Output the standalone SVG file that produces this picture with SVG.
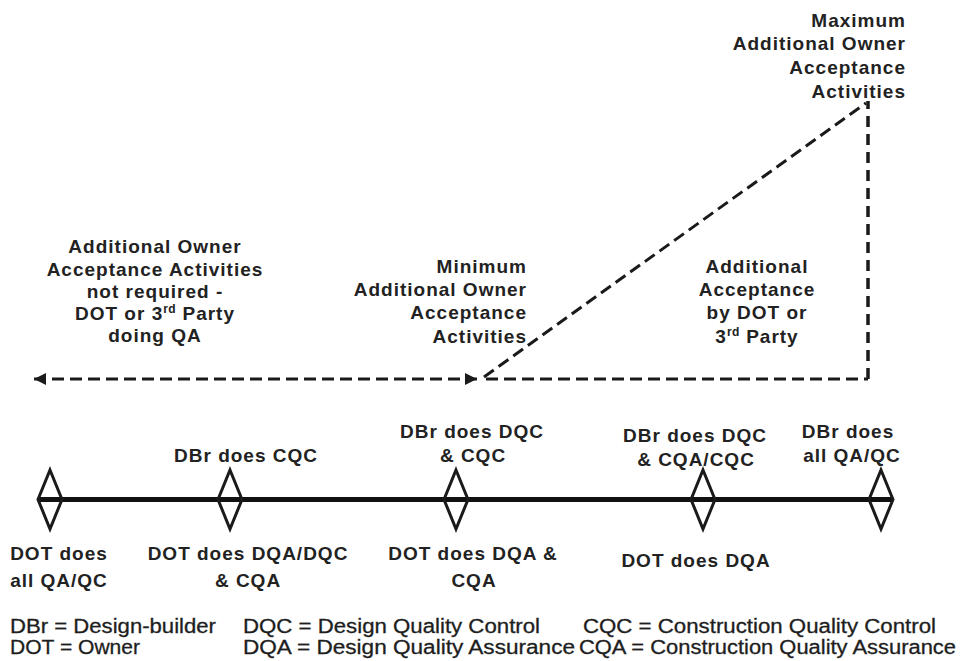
<svg xmlns="http://www.w3.org/2000/svg" width="969" height="661" viewBox="0 0 969 661">
  <defs>
    <style>
      .lbl { font-family: "Liberation Sans", Arial, sans-serif; font-weight: bold; font-size: 19px; letter-spacing: 1px; fill: #222; }
      .mid { text-anchor: middle; }
      .end { text-anchor: end; }
      .sup { font-size: 12px; letter-spacing: 0.5px; }
      .legend { font-family: "Liberation Sans", Arial, sans-serif; font-size: 20px; fill: #1e1e1e; stroke: #1e1e1e; stroke-width: 0.3px; }
      .dash { fill: none; stroke: #1a1a1a; stroke-width: 3; stroke-dasharray: 12 6; }
      .vdash { fill: none; stroke: #1a1a1a; stroke-width: 3.5; stroke-dasharray: 11 7; }
      .axis { fill: none; stroke: #111; stroke-width: 5; }
      .tick { fill: none; stroke: #1a1a1a; stroke-width: 3; stroke-linejoin: miter; }
    </style>
    <marker id="arrow" viewBox="0 0 10 10" refX="10" refY="5" markerWidth="14" markerHeight="12" markerUnits="userSpaceOnUse" orient="auto-start-reverse">
      <path d="M0,0 L10,5 L0,10 z" fill="#1a1a1a"/>
    </marker>
  </defs>

  <rect width="969" height="661" fill="#ffffff"/>

  <!-- dashed acceptance envelope and timeline axis -->
  <g id="connectors">
    <line class="dash" x1="34" y1="379" x2="477" y2="379" marker-start="url(#arrow)" marker-end="url(#arrow)"/>
    <line class="dash" x1="484" y1="377" x2="866" y2="103"/>
    <line class="dash" x1="486" y1="379" x2="868" y2="379"/>
    <line class="vdash" x1="868" y1="379" x2="868" y2="101"/>
    <line class="axis" x1="38" y1="499.5" x2="893" y2="499.5"/>
  </g>

  <!-- region labels -->
  <g id="label-not-required">
    <text class="lbl mid" x="155" y="253">Additional Owner</text>
    <text class="lbl mid" x="155" y="276">Acceptance Activities</text>
    <text class="lbl mid" x="155" y="298">not required -</text>
    <text class="lbl mid" x="155" y="320">DOT or 3<tspan class="sup" dy="-7">rd</tspan><tspan dy="7"> Party</tspan></text>
    <text class="lbl mid" x="155" y="342">doing QA</text>
  </g>

  <g id="label-minimum">
    <text class="lbl end" x="527" y="273">Minimum</text>
    <text class="lbl end" x="527" y="296">Additional Owner</text>
    <text class="lbl end" x="527" y="319">Acceptance</text>
    <text class="lbl end" x="527" y="343">Activities</text>
  </g>

  <g id="label-additional">
    <text class="lbl mid" x="757" y="273">Additional</text>
    <text class="lbl mid" x="757" y="296">Acceptance</text>
    <text class="lbl mid" x="757" y="319">by DOT or</text>
    <text class="lbl mid" x="757" y="343">3<tspan class="sup" dy="-7">rd</tspan><tspan dy="7"> Party</tspan></text>
  </g>

  <g id="label-maximum">
    <text class="lbl end" x="906" y="27">Maximum</text>
    <text class="lbl end" x="906" y="50">Additional Owner</text>
    <text class="lbl end" x="906" y="74">Acceptance</text>
    <text class="lbl end" x="906" y="98">Activities</text>
  </g>

  <!-- timeline milestones -->
  <g id="node-1">
    <path class="tick" d="M50,470 L62,499.5 L50,529 L38,499.5 Z"/>
    <text class="lbl mid" x="59" y="560">DOT does</text>
    <text class="lbl mid" x="59" y="587">all QA/QC</text>
  </g>

  <g id="node-2">
    <path class="tick" d="M230,470 L242,499.5 L230,529 L218,499.5 Z"/>
    <text class="lbl mid" x="246" y="462">DBr does CQC</text>
    <text class="lbl mid" x="248" y="560">DOT does DQA/DQC</text>
    <text class="lbl mid" x="248" y="587">&amp; CQA</text>
  </g>

  <g id="node-3">
    <path class="tick" d="M456,470 L468,499.5 L456,529 L444,499.5 Z"/>
    <text class="lbl mid" x="472" y="438">DBr does DQC</text>
    <text class="lbl mid" x="473" y="462">&amp; CQC</text>
    <text class="lbl mid" x="473" y="560">DOT does DQA &amp;</text>
    <text class="lbl mid" x="474" y="587">CQA</text>
  </g>

  <g id="node-4">
    <path class="tick" d="M703,470 L715,499.5 L703,529 L691,499.5 Z"/>
    <text class="lbl mid" x="695" y="442">DBr does DQC</text>
    <text class="lbl mid" x="696" y="466">&amp; CQA/CQC</text>
    <text class="lbl mid" x="696" y="567">DOT does DQA</text>
  </g>

  <g id="node-5">
    <path class="tick" d="M881,470 L893,499.5 L881,529 L869,499.5 Z"/>
    <text class="lbl mid" x="848" y="438">DBr does</text>
    <text class="lbl mid" x="852" y="462">all QA/QC</text>
  </g>

  <!-- abbreviation legend -->
  <g id="legend">
    <text class="legend" x="10" y="633" textLength="206" lengthAdjust="spacingAndGlyphs">DBr = Design-builder</text>
    <text class="legend" x="243" y="633" textLength="297" lengthAdjust="spacingAndGlyphs">DQC = Design Quality Control</text>
    <text class="legend" x="583" y="633" textLength="353" lengthAdjust="spacingAndGlyphs">CQC = Construction Quality Control</text>
    <text class="legend" x="10" y="654" textLength="130" lengthAdjust="spacingAndGlyphs">DOT = Owner</text>
    <text class="legend" x="243" y="654" textLength="332" lengthAdjust="spacingAndGlyphs">DQA = Design Quality Assurance</text>
    <text class="legend" x="579" y="654" textLength="377" lengthAdjust="spacingAndGlyphs">CQA = Construction Quality Assurance</text>
  </g>
</svg>
